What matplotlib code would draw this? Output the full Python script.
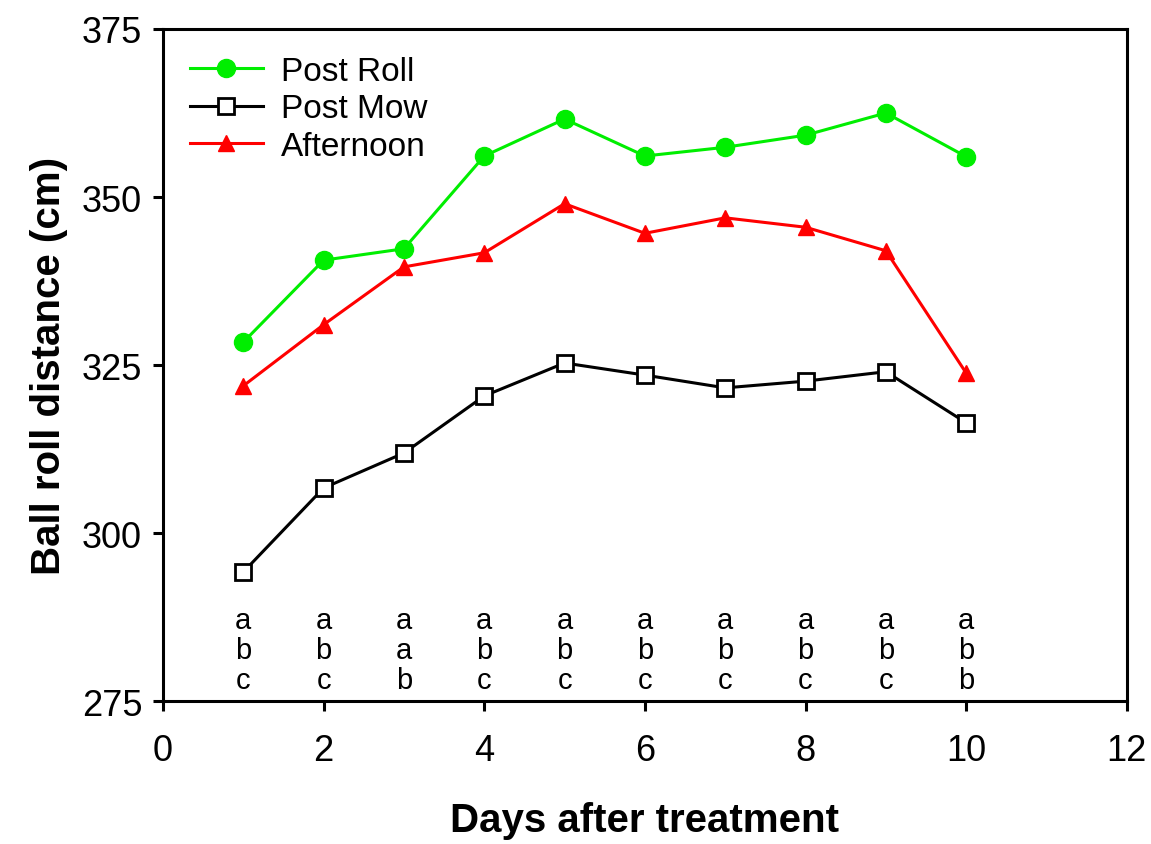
import matplotlib
matplotlib.use('Agg')
import matplotlib.pyplot as plt

plt.rcParams['font.family'] = ['Liberation Sans', 'DejaVu Sans']

days = [1, 2, 3, 4, 5, 6, 7, 8, 9, 10]
post_roll = [328.4, 340.6, 342.3, 356.1, 361.6, 356.1, 357.4, 359.2, 362.5, 356.0]
post_mow = [294.2, 306.7, 311.9, 320.4, 325.3, 323.5, 321.6, 322.6, 324.0, 316.4]
afternoon = [321.9, 331.0, 339.6, 341.7, 349.0, 344.6, 346.9, 345.5, 342.0, 323.8]

# mean separation letters per day (top to bottom)
letters = [
    ['a', 'b', 'c'], ['a', 'b', 'c'], ['a', 'a', 'b'], ['a', 'b', 'c'],
    ['a', 'b', 'c'], ['a', 'b', 'c'], ['a', 'b', 'c'], ['a', 'b', 'c'],
    ['a', 'b', 'c'], ['a', 'b', 'b'],
]
letter_y = [287.0, 282.6, 278.2]

fig = plt.figure(figsize=(11.51, 8.45), dpi=100)
ax = fig.add_axes([0.1416, 0.1692, 0.979 - 0.1416, 0.9645 - 0.1692])

ax.plot(days, post_roll, color='#00ee00', lw=2.2, marker='o', ms=13,
        mec='#00ee00', mfc='#00ee00', label='Post Roll', zorder=3)
ax.plot(days, post_mow, color='black', lw=2.2, marker='s', ms=11,
        mec='black', mfc='white', mew=2, label='Post Mow', zorder=3)
ax.plot(days, afternoon, color='red', lw=2.2, marker='^', ms=12,
        mec='red', mfc='red', label='Afternoon', zorder=3)

for d, lets in zip(days, letters):
    for ly, t in zip(letter_y, lets):
        ax.text(d, ly, t, ha='center', va='center', fontsize=21)

ax.set_xlim(0, 12)
ax.set_ylim(275, 375)
ax.set_xticks(range(0, 13, 2))
ax.set_yticks(range(275, 376, 25))
for s in ax.spines.values():
    s.set_linewidth(2.2)
ax.tick_params(direction='out', length=7, width=2.2, labelsize=26,
               top=False, right=False)
ax.tick_params(axis='x', pad=16)
ax.tick_params(axis='y', pad=8)

ax.set_xlabel('Days after treatment', fontsize=29, fontweight='bold', labelpad=24)
ax.set_ylabel('Ball roll distance (cm)', fontsize=29, fontweight='bold', labelpad=10)

ax.legend(loc='upper left', frameon=False, fontsize=24, handlelength=2.2,
          borderaxespad=0.4, labelspacing=0.2, handletextpad=0.55)

fig.savefig('out.png', dpi=100)
